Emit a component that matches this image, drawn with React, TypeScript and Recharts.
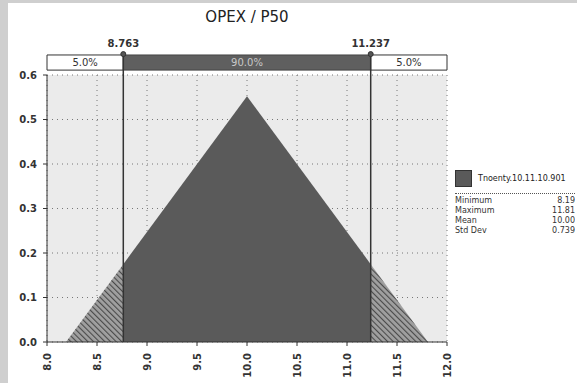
import React from "react";
import {
  ComposedChart,
  Area,
  XAxis,
  YAxis,
  CartesianGrid,
  ReferenceArea,
  ReferenceLine,
  ReferenceDot,
} from "recharts";

// distribution outline
const xValues = [8.19, 8.763, 10, 11.237, 11.81];
const leftTail = [0, 0.175, null, null, null];
const middle = [null, 0.175, 0.552, 0.175, null];
const rightTail = [null, null, null, 0.175, 0];

const xTicks = [8, 8.5, 9, 9.5, 10, 10.5, 11, 11.5, 12];
const yTicks = [0, 0.1, 0.2, 0.3, 0.4, 0.5, 0.6];

const lowCut = 8.763;
const highCut = 11.237;
const bandLabels = ["5.0%", "90.0%", "5.0%"];

const statNames = ["Minimum", "Maximum", "Mean", "Std Dev"];
const statValues = ["8.19", "11.81", "10.00", "0.739"];
const seriesName = "Tnoenty.10.11.10.901";

const data = xValues.map((x, i) => ({
  x,
  left: leftTail[i],
  mid: middle[i],
  right: rightTail[i],
}));

const font = "'DejaVu Sans', Verdana, sans-serif";

const StatsBox = () => (
  <div style={{ position: "absolute", left: 455, top: 168, width: 120, fontFamily: font, overflow: "hidden" }}>
    <div style={{ display: "flex", alignItems: "center", height: 20 }}>
      <div style={{ width: 15, height: 15, background: "#5a5a5a", border: "1px solid #333", marginRight: 6, flexShrink: 0 }} />
      <span style={{ fontSize: 8, color: "#222", whiteSpace: "nowrap" }}>{seriesName}</span>
    </div>
    <div style={{ borderTop: "1px dotted #555", marginTop: 5, marginBottom: 2, width: 120 }} />
    {statNames.map((n, i) => (
      <div key={n} style={{ display: "flex", fontSize: 8, color: "#333", height: 10, lineHeight: "10px" }}>
        <span style={{ flex: 1 }}>{n}</span>
        <span>{statValues[i]}</span>
      </div>
    ))}
  </div>
);

export default function App() {
  return (
    <div style={{ position: "fixed", left: 0, top: 0, width: 577, height: 383, background: "#cfcfcf" }}>
      <div style={{ position: "absolute", left: 8, top: 3, right: 0, bottom: 0, background: "#fff" }} />
      <div
        style={{
          position: "absolute",
          left: 47,
          width: 400,
          top: 8,
          textAlign: "center",
          fontFamily: font,
          fontSize: 15,
          color: "#222",
        }}
      >
        OPEX / P50
      </div>
      <div style={{ position: "absolute", left: 0, top: 0 }}>
        <ComposedChart width={577} height={383} data={data} margin={{ top: 75, right: 130, bottom: 3, left: 0 }}>
          <defs>
            <pattern id="hatch" width="4" height="4" patternUnits="userSpaceOnUse" patternTransform="rotate(-45)">
              <rect width="4" height="4" fill="#a0a0a0" />
              <line x1="0" y1="0" x2="0" y2="4" stroke="#4a4a4a" strokeWidth="2.2" />
            </pattern>
          </defs>
          <CartesianGrid fill="#ebebeb" stroke="#777" strokeDasharray="1 4" />
          <XAxis
            dataKey="x"
            type="number"
            domain={[8, 12]}
            ticks={xTicks}
            height={38}
            tickSize={4}
            tickMargin={3}
            stroke="#333"
            tick={{ fill: "#333", fontSize: 10, fontFamily: font, fontWeight: "bold", angle: -90, textAnchor: "end", dx: -3, dy: 4 }}
            tickFormatter={(v: number) => v.toFixed(1)}
            interval={0}
          />
          <YAxis
            type="number"
            domain={[0, 0.6]}
            ticks={yTicks}
            width={47}
            tickSize={4}
            tickMargin={6}
            stroke="#333"
            tick={{ fill: "#333", fontSize: 10, fontFamily: font, fontWeight: "bold" }}
            tickFormatter={(v: number) => v.toFixed(1)}
            interval={0}
          />
          <Area dataKey="left" type="linear" stroke="none" fill="url(#hatch)" fillOpacity={1} isAnimationActive={false} />
          <Area dataKey="mid" type="linear" stroke="none" fill="#5a5a5a" fillOpacity={1} isAnimationActive={false} />
          <Area dataKey="right" type="linear" stroke="none" fill="url(#hatch)" fillOpacity={1} isAnimationActive={false} />
          <ReferenceArea
            x1={8}
            x2={lowCut}
            y1={0.611}
            y2={0.645}
            ifOverflow="visible"
            fill="#fff"
            fillOpacity={1}
            stroke="#333"
            label={{ value: bandLabels[0], position: "center", fontSize: 10, fontFamily: font, fill: "#333" }}
          />
          <ReferenceArea
            x1={lowCut}
            x2={highCut}
            y1={0.611}
            y2={0.645}
            ifOverflow="visible"
            fill="#5f5f5f"
            fillOpacity={1}
            stroke="#444"
            label={{ value: bandLabels[1], position: "center", fontSize: 10, fontFamily: font, fill: "#c8c8c8" }}
          />
          <ReferenceArea
            x1={highCut}
            x2={12}
            y1={0.611}
            y2={0.645}
            ifOverflow="visible"
            fill="#fff"
            fillOpacity={1}
            stroke="#333"
            label={{ value: bandLabels[2], position: "center", fontSize: 10, fontFamily: font, fill: "#333" }}
          />
          <ReferenceLine segment={[{ x: lowCut, y: 0 }, { x: lowCut, y: 0.645 }]} ifOverflow="visible" stroke="#333" strokeWidth={1.5} />
          <ReferenceLine segment={[{ x: highCut, y: 0 }, { x: highCut, y: 0.645 }]} ifOverflow="visible" stroke="#333" strokeWidth={1.5} />
          <ReferenceDot
            x={lowCut}
            y={0.647}
            r={2.5}
            ifOverflow="visible"
            fill="#555"
            stroke="#333"
            label={{ value: lowCut.toFixed(3), position: "top", fontSize: 10, fontFamily: font, fill: "#333", fontWeight: "bold" }}
          />
          <ReferenceDot
            x={highCut}
            y={0.647}
            r={2.5}
            ifOverflow="visible"
            fill="#555"
            stroke="#333"
            label={{ value: highCut.toFixed(3), position: "top", fontSize: 10, fontFamily: font, fill: "#333", fontWeight: "bold" }}
          />
        </ComposedChart>
      </div>
      <StatsBox />
    </div>
  );
}
